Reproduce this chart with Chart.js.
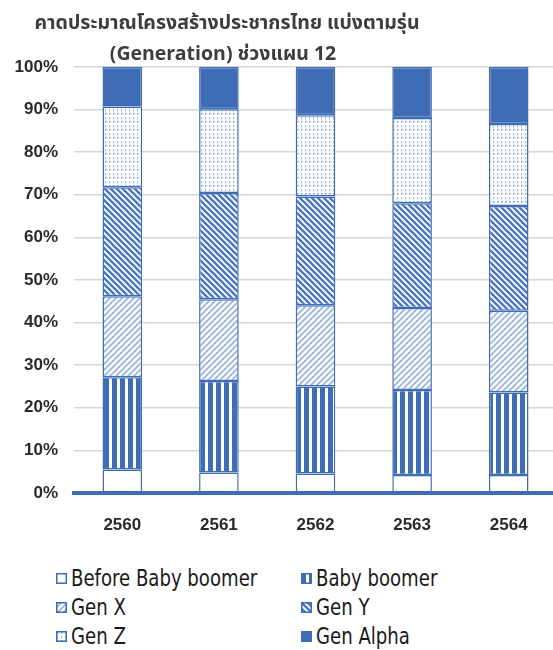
<!DOCTYPE html>
<html><head><meta charset="utf-8">
<script src="https://cdn.jsdelivr.net/npm/chart.js@4"></script>
<style>
html,body{margin:0;padding:0;background:#fff;overflow:hidden;width:553px;height:650px;}
#wrap{position:relative;width:553px;height:650px;overflow:hidden;}
#c{position:absolute;left:0;top:0;}
.item{position:absolute;display:flex;align-items:center;font-family:'DejaVu Sans Condensed','Liberation Sans',sans-serif;font-size:23px;color:#1a1a1a;white-space:nowrap;line-height:26px;}
.item canvas{width:11px;height:11px;margin-right:4px;display:block;}
.item span{display:inline-block;transform:scaleX(0.875);transform-origin:0 50%;}
</style></head>
<body>
<div id="wrap"><canvas id="c" width="559" height="560"></canvas><div id="legend"></div></div>
<script>
const titleLines = ['คาดประมาณโครงสร้างประชากรไทย แบ่งตามรุ่น', '(Generation) ช่วงแผน 12'];
const years = ['2560', '2561', '2562', '2563', '2564'];
const seriesNames = ['Before Baby boomer', 'Baby boomer', 'Gen X', 'Gen Y', 'Gen Z', 'Gen Alpha'];
const beforeBabyBoomer = [5.5, 4.8, 4.6, 4.2, 4.2];
const babyBoomer = [21.7, 21.5, 20.4, 20.0, 19.4];
const genX = [19.0, 19.2, 19.1, 19.2, 19.2];
const genY = [25.6, 24.9, 25.5, 24.6, 24.6];
const genZ = [18.9, 19.7, 19.1, 20.0, 19.2];
const genAlpha = [9.3, 9.9, 11.3, 12.0, 13.4];
const yTicks = [0, 10, 20, 30, 40, 50, 60, 70, 80, 90, 100];

const BLUE = '#3F6DB5';
const FONT = "'Liberation Sans',Arial,sans-serif";

function tile(size, draw) {
  const c = document.createElement('canvas');
  c.width = c.height = size;
  const g = c.getContext('2d');
  g.fillStyle = '#fff';
  g.fillRect(0, 0, size, size);
  draw(g, size);
  return c;
}
const tiles = [
  tile(4, (g) => {}),
  tile(8, (g) => { g.fillStyle = BLUE; g.fillRect(0, 0, 5, 8); }),
  tile(6, (g, s) => {
    g.strokeStyle = '#9BB4DF'; g.lineWidth = 1.8;
    g.beginPath();
    g.moveTo(-1, 1); g.lineTo(1, -1);
    g.moveTo(0, s); g.lineTo(s, 0);
    g.moveTo(s - 1, s + 1); g.lineTo(s + 1, s - 1);
    g.stroke();
  }),
  tile(6, (g, s) => {
    g.strokeStyle = '#4A77C0'; g.lineWidth = 2.4;
    g.beginPath();
    g.moveTo(0, 0); g.lineTo(s, s);
    g.moveTo(-1, s - 1); g.lineTo(1, s + 1);
    g.moveTo(s - 1, -1); g.lineTo(s + 1, 1);
    g.stroke();
  }),
  tile(8, (g) => {
    g.fillStyle = '#6F96D2';
    g.fillRect(1, 1, 1.5, 1.5);
    g.fillRect(5, 1, 1.5, 1.5);
    g.fillStyle = '#9DB8E3';
    g.fillRect(1, 5, 1, 2.5);
    g.fillRect(5, 5, 1, 2.5);
  }),
  null
];
const helperCtx = document.createElement('canvas').getContext('2d');
const fills = tiles.map(t => t ? helperCtx.createPattern(t, 'repeat') : BLUE);

const seriesValues = [beforeBabyBoomer, babyBoomer, genX, genY, genZ, genAlpha];

const titlePlugin = {
  id: 'customTitle',
  afterDraw(chart) {
    const ctx = chart.ctx;
    ctx.save();
    ctx.font = "bold 19.5px 'Noto Sans Thai','Noto Sans',sans-serif";
    ctx.fillStyle = '#3d3d3d';
    ctx.textAlign = 'center';
    ctx.textBaseline = 'alphabetic';
    ctx.fillText(titleLines[0], 227, 29);
    ctx.fillText(titleLines[1], 223, 60);
    ctx.restore();
  }
};

new Chart(document.getElementById('c'), {
  type: 'bar',
  data: {
    labels: years,
    datasets: seriesNames.map((name, i) => ({
      label: name,
      data: seriesValues[i],
      backgroundColor: fills[i],
      borderColor: BLUE,
      borderWidth: 1.5,
      borderSkipped: false,
      categoryPercentage: 1,
      barPercentage: 0.41
    }))
  },
  options: {
    responsive: false,
    animation: false,
    layout: { padding: { top: 67, right: 2, left: 0, bottom: 0 } },
    plugins: { legend: { display: false }, title: { display: false }, tooltip: { enabled: false } },
    scales: {
      x: {
        stacked: true,
        grid: { display: false, drawTicks: false },
        border: { display: true, color: BLUE, width: 4 },
        ticks: { color: '#2a2a2a', font: { family: FONT, size: 17, weight: 'bold' }, padding: 22 },
        afterFit(scale) { scale.height = 67; }
      },
      y: {
        stacked: true,
        min: 0, max: 100,
        afterBuildTicks(scale) { scale.ticks = yTicks.map(v => ({ value: v })); },
        grid: {
          drawTicks: false,
          color: (c) => c.tick && c.tick.value === 0 ? 'rgba(0,0,0,0)' : '#D6D6D6',
          lineWidth: 1.6
        },
        border: { display: false },
        ticks: {
          color: '#2a2a2a',
          font: { family: FONT, size: 17, weight: 'bold' },
          padding: 16,
          callback: (v) => v + '%'
        },
        afterFit(scale) { scale.width = 74; }
      }
    }
  },
  plugins: [titlePlugin]
});

const legend = document.getElementById('legend');
seriesNames.forEach((name, i) => {
  const col = i % 2, row = Math.floor(i / 2);
  const item = document.createElement('div');
  item.className = 'item';
  item.style.left = [56, 301][col] + 'px';
  item.style.top = (565 + 29 * row) + 'px';
  const sw = document.createElement('canvas');
  sw.width = 11; sw.height = 11;
  const g = sw.getContext('2d');
  g.fillStyle = i === 5 ? BLUE : g.createPattern(tiles[i], 'repeat');
  g.fillRect(0, 0, 11, 11);
  g.strokeStyle = BLUE; g.lineWidth = 1.5;
  g.strokeRect(0.75, 0.75, 9.5, 9.5);
  item.appendChild(sw);
  const t = document.createElement('span');
  t.textContent = name;
  item.appendChild(t);
  legend.appendChild(item);
});
</script>
</body></html>
